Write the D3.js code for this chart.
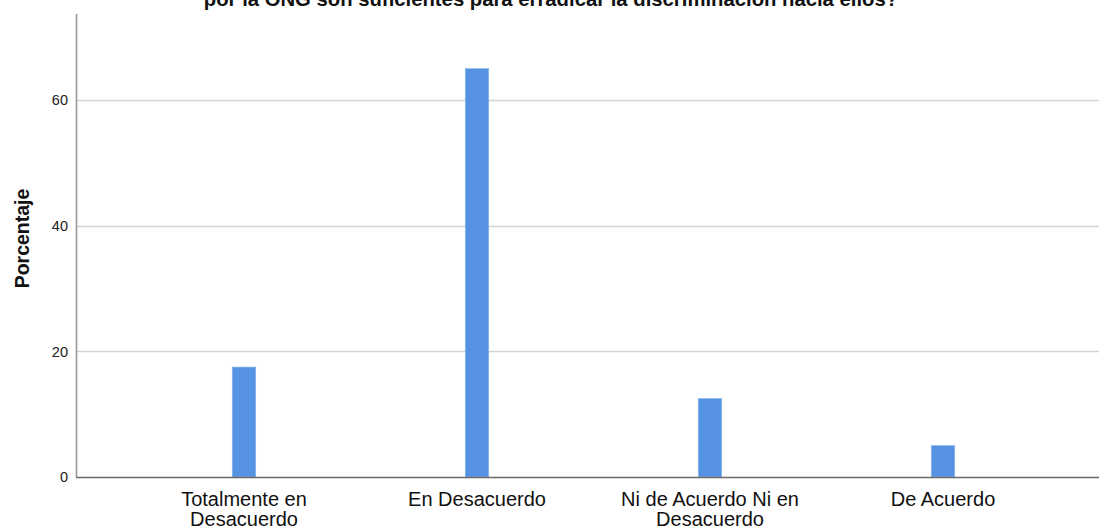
<!DOCTYPE html>
<html>
<head>
<meta charset="utf-8">
<script src="https://cdn.jsdelivr.net/npm/d3@7"></script>
<style>
  body { margin: 0; background: #fff; }
  svg { display: block; font-family: "Liberation Sans", Arial, sans-serif; }
</style>
</head>
<body>
<svg id="chart" width="1099" height="528"></svg>
<script>
// datos
var categories = ["Totalmente en Desacuerdo", "En Desacuerdo", "Ni de Acuerdo Ni en Desacuerdo", "De Acuerdo"];
var labelLines = [["Totalmente en", "Desacuerdo"], ["En Desacuerdo"], ["Ni de Acuerdo Ni en", "Desacuerdo"], ["De Acuerdo"]];
var percentages = [17.5, 65, 12.5, 5];
var yTicks = [0, 20, 40, 60];
var yTitle = "Porcentaje";
var titleText = "por la ONG son suficientes para erradicar la discriminación hacia ellos?";

var svg = d3.select("#chart");
var W = 1099, H = 528;
var plotLeft = 76, plotBottom = 477, plotTop = 14;

var x = d3.scaleBand()
    .domain(categories)
    .range([127.5, 1059.5]);

var y = d3.scaleLinear()
    .domain([0, 73.7])
    .range([plotBottom, plotTop]);

var barW = 23.5;

// lineas de rejilla
svg.append("g")
    .selectAll("line")
    .data(yTicks.filter(function(d){ return d > 0; }))
    .join("line")
    .attr("x1", plotLeft).attr("x2", W)
    .attr("y1", function(d){ return Math.round(y(d)) + 0.5; })
    .attr("y2", function(d){ return Math.round(y(d)) + 0.5; })
    .attr("stroke", "#d4d4d4")
    .attr("stroke-width", 1.5);

// barras
svg.append("g")
    .selectAll("rect")
    .data(percentages)
    .join("rect")
    .attr("x", function(d, i){ return x(categories[i]) + x.bandwidth()/2 - barW/2; })
    .attr("width", barW)
    .attr("y", function(d){ return y(d); })
    .attr("height", function(d){ return plotBottom - y(d); })
    .attr("fill", "#5592e2")
    .attr("stroke", "#8ab6ef")
    .attr("stroke-width", 0.6);

// ejes
svg.append("line")
    .attr("x1", plotLeft + 0.5).attr("x2", plotLeft + 0.5)
    .attr("y1", plotTop).attr("y2", plotBottom)
    .attr("stroke", "#9a9a9a").attr("stroke-width", 1.6);

svg.append("line")
    .attr("x1", plotLeft).attr("x2", W)
    .attr("y1", plotBottom + 0.5).attr("y2", plotBottom + 0.5)
    .attr("stroke", "#6a6a6a").attr("stroke-width", 1.3);

// etiquetas del eje y
svg.append("g")
    .selectAll("text")
    .data(yTicks)
    .join("text")
    .attr("x", 68)
    .attr("y", function(d){ return y(d); })
    .attr("dy", "0.36em")
    .attr("text-anchor", "end")
    .attr("font-size", 14.5)
    .attr("fill", "#222")
    .text(function(d){ return d; });

// etiquetas de categorias
var cat = svg.append("g")
    .selectAll("text")
    .data(categories)
    .join("text")
    .attr("text-anchor", "middle")
    .attr("font-size", 20)
    .attr("fill", "#111")
    .attr("transform", function(d){ return "translate(" + (x(d) + x.bandwidth()/2) + ",506)"; });

cat.selectAll("tspan")
    .data(function(d, i){ return labelLines[i]; })
    .join("tspan")
    .attr("x", 0)
    .attr("dy", function(d, j){ return j == 0 ? 0 : 19.5; })
    .text(function(d){ return d; });

// titulo del eje y
svg.append("text")
    .attr("transform", "translate(29,238.5) rotate(-90)")
    .attr("text-anchor", "middle")
    .attr("font-size", 19.5)
    .attr("font-weight", "bold")
    .attr("fill", "#111")
    .text(yTitle);

// titulo (cortado arriba)
svg.append("text")
    .attr("x", 551)
    .attr("y", 5.5)
    .attr("text-anchor", "middle")
    .attr("font-size", 20.3)
    .attr("font-weight", "bold")
    .attr("fill", "#111")
    .text(titleText);
</script>
</body>
</html>
